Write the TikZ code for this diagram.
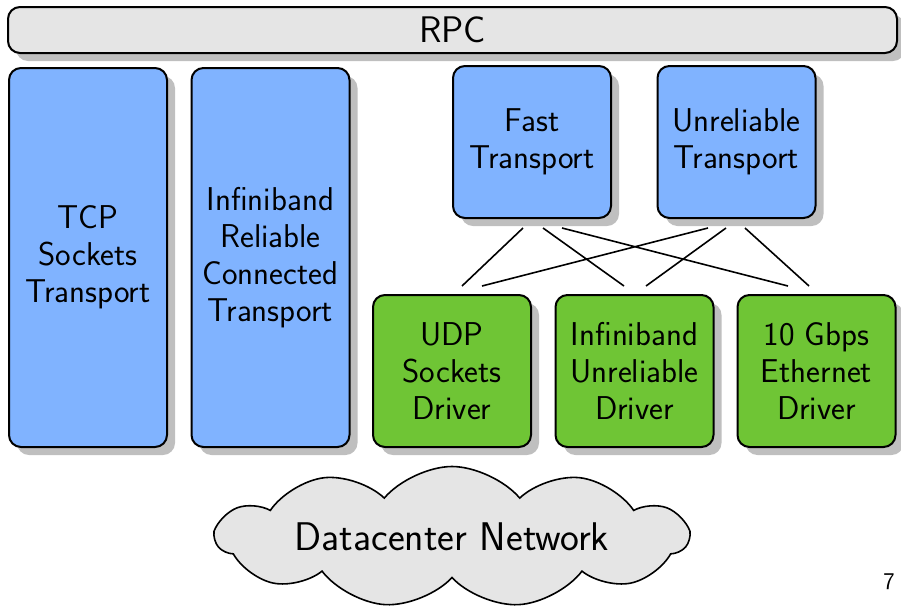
\documentclass[tikz,border=0pt]{standalone}
\usepackage{fontspec}
\usepackage{tikz}
\usetikzlibrary{positioning,shapes.symbols,shadows}

\definecolor{tblue}{RGB}{128,179,255}
\definecolor{dgreen}{RGB}{111,197,53}

\tikzset{
  box/.style={draw,line width=2pt,rounded corners=12pt,align=center,
    font=\sffamily\fontsize{33}{37}\selectfont,
    drop shadow={shadow xshift=8pt,shadow yshift=-8pt,fill=black!25,opacity=1}},
  transport/.style={box,fill=tblue,minimum width=158pt,minimum height=152pt},
  driver/.style={box,fill=dgreen,minimum width=158pt,minimum height=152pt},
  link/.style={line width=1.6pt}
}

\begin{document}
\begin{tikzpicture}[x=1pt,y=-1pt]
\useasboundingbox (0,0) rectangle (901,611);
\node[box,fill=black!10,minimum width=889pt,minimum height=46pt,
  font=\sffamily\fontsize{37}{40}\selectfont] (rpc) at (452.5,30) {RPC};
\node[transport,minimum height=379pt] (tcp) at (88,257.5) {TCP\\Sockets\\Transport};
\node[transport,minimum height=379pt] (ibrc) at (270.5,257.5) {Infiniband\\Reliable\\Connected\\Transport};
\node[transport] (fast) at (532,142) {Fast\\Transport};
\node[transport] (unrel) at (736.5,142) {Unreliable\\Transport};
\node[driver] (udp) at (452,371) {UDP\\Sockets\\Driver};
\node[driver] (ibud) at (634.5,371) {Infiniband\\Unreliable\\Driver};
\node[driver] (gbps) at (816.5,371) {10 Gbps\\Ethernet\\Driver};
\node[cloud,cloud puffs=11,cloud puff arc=100,cloud ignores aspect,draw,fill=black!10,line width=1.6pt,
  minimum width=472pt,minimum height=141pt,
  font=\sffamily\fontsize{40}{44}\selectfont] (net) at (452,537) {Datacenter Network};
\node[font=\sffamily\fontsize{24}{26}\selectfont] (page) at (889,582) {7};
% transports to drivers
\draw[link]
([xshift=-9pt,yshift=-9pt]fast.south) -- ([xshift=10pt,yshift=8pt]udp.north)
([xshift=11pt,yshift=-9pt]fast.south) -- ([xshift=-10.5pt,yshift=8pt]ibud.north)
([xshift=30pt,yshift=-9pt]fast.south) -- ([xshift=-28.5pt,yshift=8pt]gbps.north)
([xshift=-28.5pt,yshift=-9pt]unrel.south) -- ([xshift=30pt,yshift=8pt]udp.north)
([xshift=-10.5pt,yshift=-9pt]unrel.south) -- ([xshift=11.5pt,yshift=8pt]ibud.north)
([xshift=8.5pt,yshift=-9pt]unrel.south) -- ([xshift=-7.5pt,yshift=8pt]gbps.north);
\end{tikzpicture}
\end{document}
